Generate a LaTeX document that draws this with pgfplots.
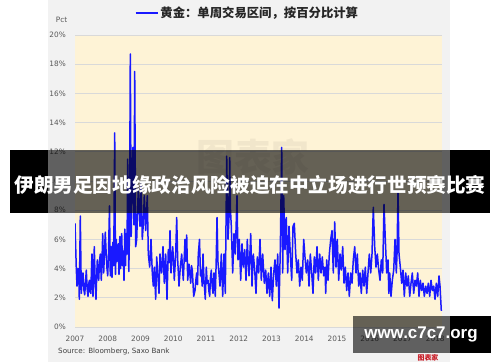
\documentclass[border=0pt]{standalone}
\usepackage{fontspec}
\setmainfont{DejaVu Sans}
\newfontfamily\cjk{Noto Sans CJK SC}
\newfontfamily\lib{Liberation Sans}
\usepackage{pgfplots}
\pgfplotsset{compat=1.18}
\usepackage{pgfplotstable}
\definecolor{bgray}{RGB}{242,242,242}
\definecolor{cream}{RGB}{254,243,214}
\definecolor{gridc}{RGB}{217,217,217}
\definecolor{txt}{RGB}{89,89,89}
\definecolor{lineb}{RGB}{25,25,255}
\definecolor{ttl}{RGB}{38,38,38}
\pgfplotstableread{
px val
75 7.1
76.3 4.0
77 2.8
78 4.0
78.7 3.9
79.3 1.9
80.3 7.6
81.3 2.3
82.2 3.2
83 3.7
84 2.5
84.7 2.2
85.5 3.0
86.3 3.9
87.2 2.6
88 2.1
88.8 3.0
89.5 3.2
90.2 2.4
90.8 2.3
91.4 3.8
92 5.0
92.5 3.0
93 2.1
93.7 3.8
94.3 5.5
95.2 3.0
96 1.9
96.7 3.5
97.3 4.6
98 3.6
98.7 3.2
99.5 4.5
100.3 5.0
101.3 3.2
102 4.5
102.7 6.4
103.7 3.7
104.5 5.2
105.3 6.5
106.3 4.8
107 4.0
107.7 3.5
108.5 5.0
109.5 8.3
110.3 3.5
111 5.5
112 3.4
112.8 5.8
113.7 4.2
114.7 13.3
115.5 3.6
116.3 6.0
117 4.5
118.3 5.7
119 3.6
119.8 6.2
120.5 4.0
121.7 6.4
122.5 4.2
123.3 5.2
124 3.2
124.8 6.7
125.5 4.2
126.3 6.4
127 5.0
127.7 11.5
128.8 3.8
129.5 6.5
130.3 18.7
131.2 6.2
132 9.5
133 12.3
134 7.0
134.7 17.5
135.7 5.5
136.7 6.0
138.3 9.5
140 6.9
141 9.8
142.3 6.0
143.3 7.0
144.3 9.0
145.7 6.6
147.3 9.0
148.3 5.0
149.7 4.1
151 6.0
152.3 3.7
153.3 2.8
154.3 4.1
155.7 1.9
156.7 4.8
157.7 3.7
159 2.3
160 5.0
160.8 4.2
161.7 3.7
163 5.5
164.3 3.0
165.7 5.0
167 1.9
168.3 5.3
169.2 4.4
170 6.6
171 3.7
172.7 5.5
173.5 4.6
174.3 3.2
175.7 5.0
176.7 7.5
177.7 4.6
179 2.8
180.3 4.1
181.7 5.0
182.5 4.0
183.3 3.2
185 6.0
185.8 4.5
186.7 6.3
187.7 3.2
189 4.3
190.7 3.0
191.5 4.2
192.3 3.9
193.7 2.1
195 2.5
196 3.3
196.7 3.7
197.5 2.9
198.3 5.0
199.5 6.0
200.5 3.5
201.3 3.9
202.2 2.8
203 5.0
204 3.2
205.3 1.9
206.3 4.1
207.2 3.0
208 3.2
209 2.4
209.7 2.1
210.5 3.4
211.3 3.9
212.2 2.8
213 2.3
214 3.7
215.3 2.1
216.2 4.5
217 7.5
218 4.4
218.7 3.9
220 2.8
221.3 5.0
222.7 2.1
224 5.0
225.3 2.3
226.7 11.7
228 6.0
229 7.5
229.7 11.6
230.5 8.0
231.3 6.9
232.7 3.7
234 6.4
235.3 5.0
237 9.0
238 4.6
239.3 6.0
240.7 3.2
242 5.7
243.3 4.1
244.7 5.3
246 3.2
247.3 6.0
248.2 4.5
249 3.5
250.7 6.4
252 2.8
253.3 5.0
254.7 3.9
256 2.3
257.3 4.8
258.7 3.7
260 6.0
261.3 3.2
262.7 5.0
264.3 3.0
265.7 3.9
267 2.3
268.3 3.7
269.7 2.1
271 4.1
272.3 1.8
273.7 3.7
275 4.6
276.3 2.8
277.7 5.0
279 1.3
280.3 5.3
281.7 12.3
282.7 3.7
283.7 9.0
285 5.3
286.3 7.5
287.7 3.7
289 6.9
290.3 5.0
291.7 3.2
293 6.9
294.3 7.1
295.7 5.0
297 3.7
298.3 4.6
299.7 2.8
301 4.1
302.3 3.2
303.7 6.0
305 4.8
306.3 3.7
307.7 4.6
309 2.8
310.3 5.0
311.7 3.7
313 2.3
314.3 4.8
315.7 3.7
317 5.5
318.3 3.2
319.7 5.0
321 3.7
322.3 4.8
323.7 3.5
325 4.1
325.7 2.3
326.7 4.6
328 3.2
329.3 5.0
330.7 6.0
332 6.6
333.3 3.7
334.7 7.2
336 4.1
337.3 6.0
338.7 3.2
340 5.0
341.3 3.9
342.7 5.5
344 3.0
345.3 4.1
346.7 2.5
348 3.7
349.3 2.1
350.7 3.7
352 3.0
353.3 4.6
354.7 5.5
356 3.7
357.3 5.0
358.7 2.8
360 3.7
361.3 2.3
362.7 3.9
364 2.8
365.3 4.1
366.7 2.3
368 3.7
369.3 5.0
370.7 3.7
372 5.0
373.3 8.2
374.7 5.5
376 4.1
377.3 5.0
378.7 3.9
380 3.2
381.3 4.6
382.7 3.7
384 8.4
385.3 6.0
386.7 3.7
388 4.6
388.8 2.3
389.7 3.7
391 2.1
392.3 3.2
393.7 3.9
395 6.0
396.3 3.7
397 5.0
398 9.3
399 5.0
400.3 4.1
401.7 3.0
403 3.9
404.3 2.1
405.7 3.7
407 2.8
408.3 3.5
409.7 2.1
411 3.0
412.3 3.7
413.7 2.3
415 3.2
416.3 2.8
417.7 3.7
419 2.1
420.3 3.2
421.7 2.5
423 3.0
424.3 2.1
425.7 2.8
427 2.3
428.3 3.0
429.7 2.1
431 3.2
432.3 2.5
433.7 2.8
435 1.9
436.3 3.0
437.7 2.1
439 3.5
440 2.8
441.3 1.1
}\golddata
\begin{document}
\begin{tikzpicture}[x=1bp,y=1bp]
\fill[white] (0,0) rectangle (500,362);
\fill[bgray] (48,0) rectangle (450,362);
\begin{axis}[
  at={(75bp,35bp)}, anchor=south west,
  scale only axis, width=367bp, height=292bp,
  xmin=2007, xmax=2018.206, ymin=0, ymax=20,
  axis background/.style={fill=cream},
  axis line style={draw=none},
  major tick length=0pt,
  ytick={0,2,...,20},
  yticklabels={0\%,2\%,4\%,6\%,8\%,10\%,12\%,14\%,16\%,18\%,20\%},
  xtick={2007,2008,...,2018},
  xticklabels={2007,2008,2009,2010,2011,2012,2013,2014,2015,2016,2017,2018},
  ymajorgrids, grid style={draw=gridc, line width=0.9bp},
  yticklabel style={font=\fontsize{7.4}{8}\selectfont, text=txt, anchor=east, inner sep=0pt, xshift=-9bp},
  xticklabel style={font=\fontsize{7.4}{8}\selectfont, text=txt, anchor=north, inner sep=0pt, yshift=-8.5bp},
  /pgf/number format/assume math mode=true,
  legend style={at={(0.470,1.075)}, anchor=center, draw=none, fill=none,
    font=\cjk\bfseries\fontsize{12.4}{14}\selectfont, text=ttl},
  legend image code/.code={\draw[#1] (0bp,0bp) -- (22bp,0bp);},
]
\addplot[lineb, line width=1.5bp, line join=round] table[x expr={2007+(\thisrow{px}-75)/32.75}, y=val] {\golddata};
\addlegendentry{黄金：单周交易区间，按百分比计算}
\end{axis}
% watermark
\node[text=black, opacity=0.05] at (253,205) {\cjk\bfseries\fontsize{38}{40}\selectfont 图表家};
\node[anchor=center, text=txt] at (61.5,342) {\fontsize{7.4}{8}\selectfont Pct};
\node[anchor=west, text={rgb,255:red,64;green,64;blue,64}, inner sep=0pt] at (58,10) {\fontsize{7.2}{8}\selectfont Source: Bloomberg, Saxo Bank};
% banner
\fill[black] (10,149) rectangle (48,212);
\fill[black] (450,149) rectangle (490,212);
\fill[black, opacity=0.6] (48,149) rectangle (450,212);
\node[text=white, inner sep=0pt] at (250,177) {\cjk\bfseries\fontsize{19.7}{20}\selectfont 伊朗男足因地缘政治风险被迫在中立场进行世预赛比赛};
% site box
\fill[black, opacity=0.6] (353,9) rectangle (450,46);
\fill[black] (450,9) rectangle (491,46);
\node[text=white, inner sep=0pt] at (421,28) {\lib\bfseries\fontsize{17}{18}\selectfont www.c7c7.org};
\node[text={rgb,255:red,200;green,30;blue,40}, inner sep=0pt] at (428,4) {\cjk\bfseries\fontsize{7}{7}\selectfont 图表家};
\end{tikzpicture}
\end{document}
